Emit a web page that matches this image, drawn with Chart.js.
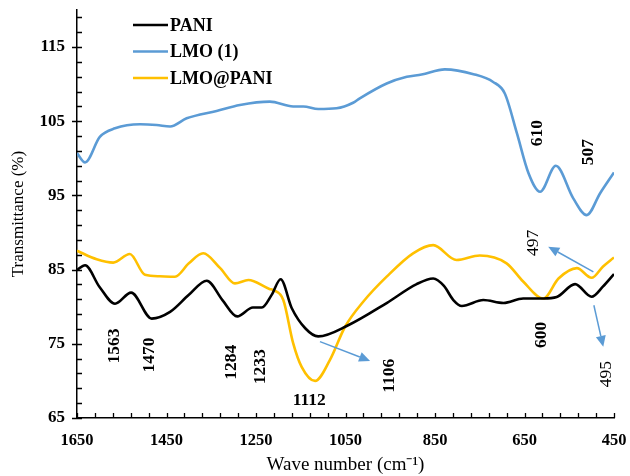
<!DOCTYPE html>
<html>
<head>
<meta charset="utf-8">
<script src="https://cdn.jsdelivr.net/npm/chart.js@4.4.1/dist/chart.umd.min.js"></script>
<style>
html,body{margin:0;padding:0;background:#fff;}
#wrap{width:630px;height:476px;position:relative;}
</style>
</head>
<body>
<div id="wrap"><canvas id="c" width="630" height="476"></canvas></div>
<script>
// ---- Data ----
const seriesNames = ["PANI", "LMO (1)", "LMO@PANI"];
const seriesColors = ["#000000", "#5B9BD5", "#FFC000"];

const paniWave = [1650,1632,1600,1565,1529,1483,1442,1400,1360,1325,1292,1257,1237,1215,1195,1170,1140,1111,1044,958,891,854,830,809,790,742,697,653,608,578,537,500,475,450];
const paniT    = [84.95,85.6,82.7,80.4,81.9,78.4,79.3,81.6,83.5,80.9,78.7,79.9,79.9,81.6,83.7,79.8,77.1,76.0,77.5,80.5,83.05,83.8,82.8,80.9,80.1,80.9,80.5,81.1,81.1,81.3,83.05,81.35,82.7,84.4];

const lmoWave = [1650,1632,1599,1565,1509,1472,1442,1405,1338,1286,1219,1167,1144,1111,1070,1033,1018,958,913,880,828,764,720,694,667,641,615,580,541,511,481,450];
const lmoT    = [100.7,99.45,102.9,104.05,104.6,104.5,104.3,105.4,106.4,107.2,107.65,107.0,107.0,106.65,106.75,107.5,108.1,110.1,111.0,111.3,112.0,111.35,110.3,108.75,103.4,98.0,95.5,99.0,94.6,92.35,95.3,98.1];

const compWave = [1650,1606,1569,1532,1498,1465,1431,1400,1368,1330,1297,1267,1220,1211,1189,1167,1148,1118,1085,1051,1010,958,899,854,802,750,690,653,608,574,533,500,475,450];
const compT    = [87.55,86.4,85.95,87.1,84.3,84.1,84.05,85.85,87.2,85.2,83.15,83.6,82.4,82.25,80.9,75.1,71.9,70.0,72.8,77.3,80.7,84.05,87.2,88.3,86.3,86.9,85.85,83.4,81.1,83.8,85.2,83.9,85.4,86.65];

const xTicks = [1650,1450,1250,1050,850,650,450];
const yTicks = [65,75,85,95,105,115];

// peak annotations: [text, wavenumber, transmittance, bold]
const peakLabels = [
  ["610", 620, 103.4, true],
  ["507", 508, 100.85, true],
  ["1563", 1567, 74.7, true],
  ["1470", 1487, 73.5, true],
  ["1284", 1304, 72.5, true],
  ["1233", 1241, 71.9, true],
  ["1106", 951, 70.7, true],
  ["600", 611, 76.2, true],
  ["497", 631, 88.6, false],
  ["495", 466, 70.9, false]
];
const flatLabels = [["1112", 1131, 67.4, true]];
// arrows: [fromWave, fromT, toWave, toT]
const arrows = [
  [1107, 75.3, 995, 72.7],
  [496, 84.7, 597, 88.1],
  [495, 80.2, 474, 74.6]
];

const toPts = (w, t) => w.map((x, i) => ({x: x, y: t[i]}));

const serif = "'Liberation Serif','Times New Roman',serif";

const decoPlugin = {
  id: 'deco',
  afterDatasetsDraw(chart) {
    const ctx = chart.ctx;
    const xs = chart.scales.x, ys = chart.scales.y;
    const area = chart.chartArea;
    ctx.save();
    // tick marks
    ctx.strokeStyle = '#000';
    ctx.lineWidth = 1.3;
    ctx.beginPath();
    for (let v = 450; v <= 1650; v += 40) {
      const px = Math.round(xs.getPixelForValue(v)) + 0.5;
      ctx.moveTo(px, area.bottom);
      ctx.lineTo(px, area.bottom - 5);
    }
    for (let v = 65; v <= 119; v += 2) {
      const py = Math.round(ys.getPixelForValue(v)) + 0.5;
      ctx.moveTo(area.left, py);
      ctx.lineTo(area.left + 5, py);
      if ((v - 65) % 10 === 0) {
        ctx.moveTo(area.left - 5, py);
        ctx.lineTo(area.left, py);
      }
    }
    ctx.stroke();

    // rotated peak labels
    ctx.fillStyle = '#000';
    ctx.textAlign = 'center';
    ctx.textBaseline = 'middle';
    peakLabels.forEach(([t, w, v, b]) => {
      ctx.save();
      ctx.translate(xs.getPixelForValue(w), ys.getPixelForValue(v));
      ctx.rotate(-Math.PI / 2);
      ctx.font = (b ? 'bold ' : '') + '17.5px ' + serif;
      ctx.fillText(t, 0, 0);
      ctx.restore();
    });
    flatLabels.forEach(([t, w, v, b]) => {
      ctx.font = (b ? 'bold ' : '') + '17.5px ' + serif;
      ctx.fillText(t, xs.getPixelForValue(w), ys.getPixelForValue(v));
    });

    // arrows
    ctx.strokeStyle = '#5B9BD5';
    ctx.fillStyle = '#5B9BD5';
    ctx.lineWidth = 1.5;
    arrows.forEach(([w1, v1, w2, v2]) => {
      const x1 = xs.getPixelForValue(w1), y1 = ys.getPixelForValue(v1);
      const x2 = xs.getPixelForValue(w2), y2 = ys.getPixelForValue(v2);
      const ang = Math.atan2(y2 - y1, x2 - x1);
      const hl = 11, hw = 5;
      const bx = x2 - hl * Math.cos(ang), by = y2 - hl * Math.sin(ang);
      ctx.beginPath();
      ctx.moveTo(x1, y1);
      ctx.lineTo(bx, by);
      ctx.stroke();
      ctx.beginPath();
      ctx.moveTo(x2, y2);
      ctx.lineTo(bx + hw * Math.sin(ang), by - hw * Math.cos(ang));
      ctx.lineTo(bx - hw * Math.sin(ang), by + hw * Math.cos(ang));
      ctx.closePath();
      ctx.fill();
    });

    // legend
    ctx.font = 'bold 18px ' + serif;
    ctx.textAlign = 'left';
    ctx.textBaseline = 'middle';
    chart.data.datasets.forEach((ds, i) => {
      const y = 25 + i * 26.5;
      ctx.strokeStyle = ds.borderColor;
      ctx.lineWidth = 2.5;
      ctx.beginPath();
      ctx.moveTo(133, y);
      ctx.lineTo(168, y);
      ctx.stroke();
      ctx.fillStyle = '#000';
      ctx.fillText(ds.label, 170, y + 1);
    });
    ctx.restore();
  }
};

new Chart(document.getElementById('c'), {
  type: 'line',
  data: {
    datasets: [
      {label: seriesNames[0], data: toPts(paniWave, paniT), borderColor: seriesColors[0]},
      {label: seriesNames[1], data: toPts(lmoWave, lmoT), borderColor: seriesColors[1]},
      {label: seriesNames[2], data: toPts(compWave, compT), borderColor: seriesColors[2]}
    ]
  },
  options: {
    responsive: false,
    animation: false,
    devicePixelRatio: 1,
    layout: {padding: {top: 10, right: 16, left: 0, bottom: 0}},
    elements: {
      point: {radius: 0},
      line: {borderWidth: 2.6, cubicInterpolationMode: 'monotone', fill: false}
    },
    plugins: {legend: {display: false}, tooltip: {enabled: false}},
    scales: {
      x: {
        type: 'linear', reverse: true, min: 450, max: 1650,
        afterBuildTicks: s => { s.ticks = xTicks.map(v => ({value: v})); },
        afterFit: s => { s.height = 58; s.paddingLeft = 0; s.paddingRight = 0; },
        grid: {display: false, drawTicks: false},
        border: {display: true, color: '#000', width: 1.5},
        ticks: {color: '#000', padding: 13, maxRotation: 0, autoSkip: false,
                callback: v => String(v),
                font: {family: serif, size: 16.5, weight: 'bold'}},
        title: {display: true, text: 'Wave number (cm⁻¹)', color: '#000',
                font: {family: serif, size: 19}, padding: {top: 0, bottom: 0}}
      },
      y: {
        type: 'linear', min: 65, max: 120,
        afterBuildTicks: s => { s.ticks = yTicks.map(v => ({value: v})); },
        afterFit: s => { s.width = 77; s.paddingTop = 0; s.paddingBottom = 0; },
        grid: {display: false, drawTicks: false},
        border: {display: true, color: '#000', width: 1.5},
        ticks: {color: '#000', padding: 12, callback: v => String(v),
                font: {family: serif, size: 17, weight: 'bold'}},
        title: {display: true, text: 'Transmittance (%)', color: '#000',
                font: {family: serif, size: 17}, padding: {top: 8, bottom: 0}}
      }
    }
  },
  plugins: [decoPlugin]
});
</script>
</body>
</html>
